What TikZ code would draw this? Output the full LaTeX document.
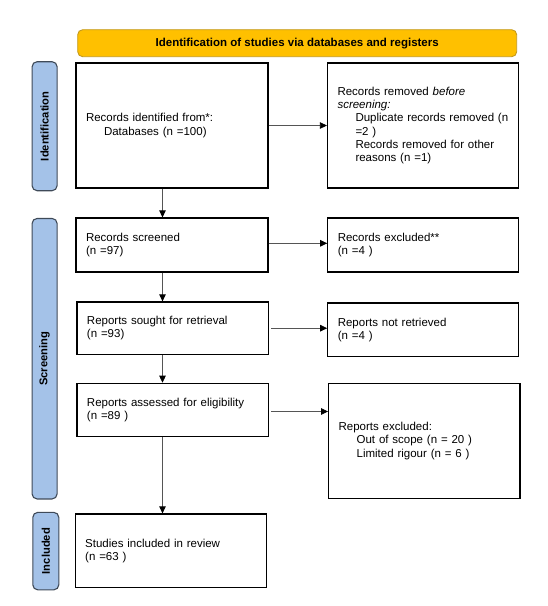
\documentclass[tikz,border=0pt]{standalone}
\usepackage{fontspec}
\setmainfont{Liberation Sans}
\usetikzlibrary{arrows.meta}
\definecolor{bannerfill}{HTML}{FFC000}
\definecolor{bannerdraw}{HTML}{C49A1C}
\definecolor{sidefill}{HTML}{A4C2E8}
\definecolor{sidedraw}{HTML}{3F4A58}
\definecolor{linkcol}{HTML}{555555}
\tikzset{
  txt/.style={font=\fontsize{11.5}{13.3}\selectfont},
  box/.style={draw=black, line width=1.2pt, fill=white, align=left, inner xsep=10pt, inner ysep=2pt, txt},
  banner/.style={draw=bannerdraw, line width=0.9pt, fill=bannerfill, rounded corners=5pt, font=\fontsize{11.5}{13.3}\selectfont\bfseries},
  side/.style={draw=sidedraw, line width=1.1pt, fill=sidefill, rounded corners=5pt},
  sidetxt/.style={rotate=90, font=\fontsize{11.2}{13}\selectfont\bfseries},
  link/.style={draw=linkcol, line width=0.8pt, -{Triangle[length=7pt,width=6.5pt,color=black]}}
}
\newcommand{\ind}{\hspace*{18pt}}
\begin{document}
\begin{tikzpicture}[x=1pt,y=-1pt]
\useasboundingbox (0,0) rectangle (548,606);

% banner
\node[banner, minimum width=439pt, minimum height=27pt] (ban) at (297.2,43.2) {Identification of studies via databases and registers};

% side labels
\node[side, minimum width=25pt, minimum height=129pt] (sid) at (44.6,126.2) {};
\node[sidetxt] (sidt) at (sid.center) {Identification};
\node[side, minimum width=25pt, minimum height=280.5pt] (sscr) at (44.6,358.7) {};
\node[sidetxt] (sscrt) at (sscr.center) {Screening};
\node[side, minimum width=26pt, minimum height=77.5pt] (sinc) at (45.8,551.1) {};
\node[sidetxt] (sinct) at (sinc.center) {Included};

% boxes
\node[box, minimum width=192pt, minimum height=125pt, text width=172pt] (idbox) at (172,125.5)
  {Records identified from*:\\\ind Databases (n =100)};
\node[box, minimum width=191pt, minimum height=125pt, text width=171pt] (rem) at (423,125.5)
  {Records removed \textit{before}\\\textit{screening:}\\\ind Duplicate records removed (n\\\ind =2 )\\\ind Records removed for other\\\ind reasons (n =1)};
\node[box, minimum width=192pt, minimum height=54pt, text width=172pt] (scr) at (172,245)
  {Records screened\\(n =97)};
\node[box, minimum width=191pt, minimum height=54pt, text width=171pt] (exc) at (423.3,245)
  {Records excluded**\\(n =4 )};
\node[box, minimum width=191.5pt, minimum height=52.5pt, text width=171.5pt] (sou) at (172.7,328.2)
  {Reports sought for retrieval\\(n =93)};
\node[box, minimum width=191pt, minimum height=53.7pt, text width=171pt] (nret) at (423.3,329.8)
  {Reports not retrieved\\(n =4 )};
\node[box, minimum width=191.5pt, minimum height=53.4pt, text width=171.5pt] (ass) at (172.7,410)
  {Reports assessed for eligibility\\(n =89 )};
\node[box, minimum width=191.3pt, minimum height=115pt, text width=171.3pt] (rexc) at (424.3,440.8)
  {Reports excluded:\\\ind Out of scope (n = 20 )\\\ind Limited rigour (n = 6 )};
\node[box, minimum width=191.2pt, minimum height=73.7pt, text width=171.2pt] (stu) at (170.8,550.8)
  {Studies included in review\\(n =63 )};

% connectors
\coordinate (ax) at (162.5,0);
\draw[link] (idbox.east) -- (rem.west);
\draw[link] (scr.east) ++(0,-1.7) -- (exc.west |- 0,243.3);
\draw[link] (sou.east) ++(2,0) -- (nret.west |- sou.east);
\draw[link] (ass.east) ++(2,1.5) -- (rexc.west |- 0,411.5);
\draw[link] (idbox.south -| ax) -- (scr.north -| ax);
\draw[link] (scr.south -| ax) -- (sou.north -| ax);
\draw[link] (sou.south -| ax) -- (ass.north -| ax);
\draw[link] (ass.south -| ax) -- (stu.north -| ax);
\end{tikzpicture}
\end{document}
